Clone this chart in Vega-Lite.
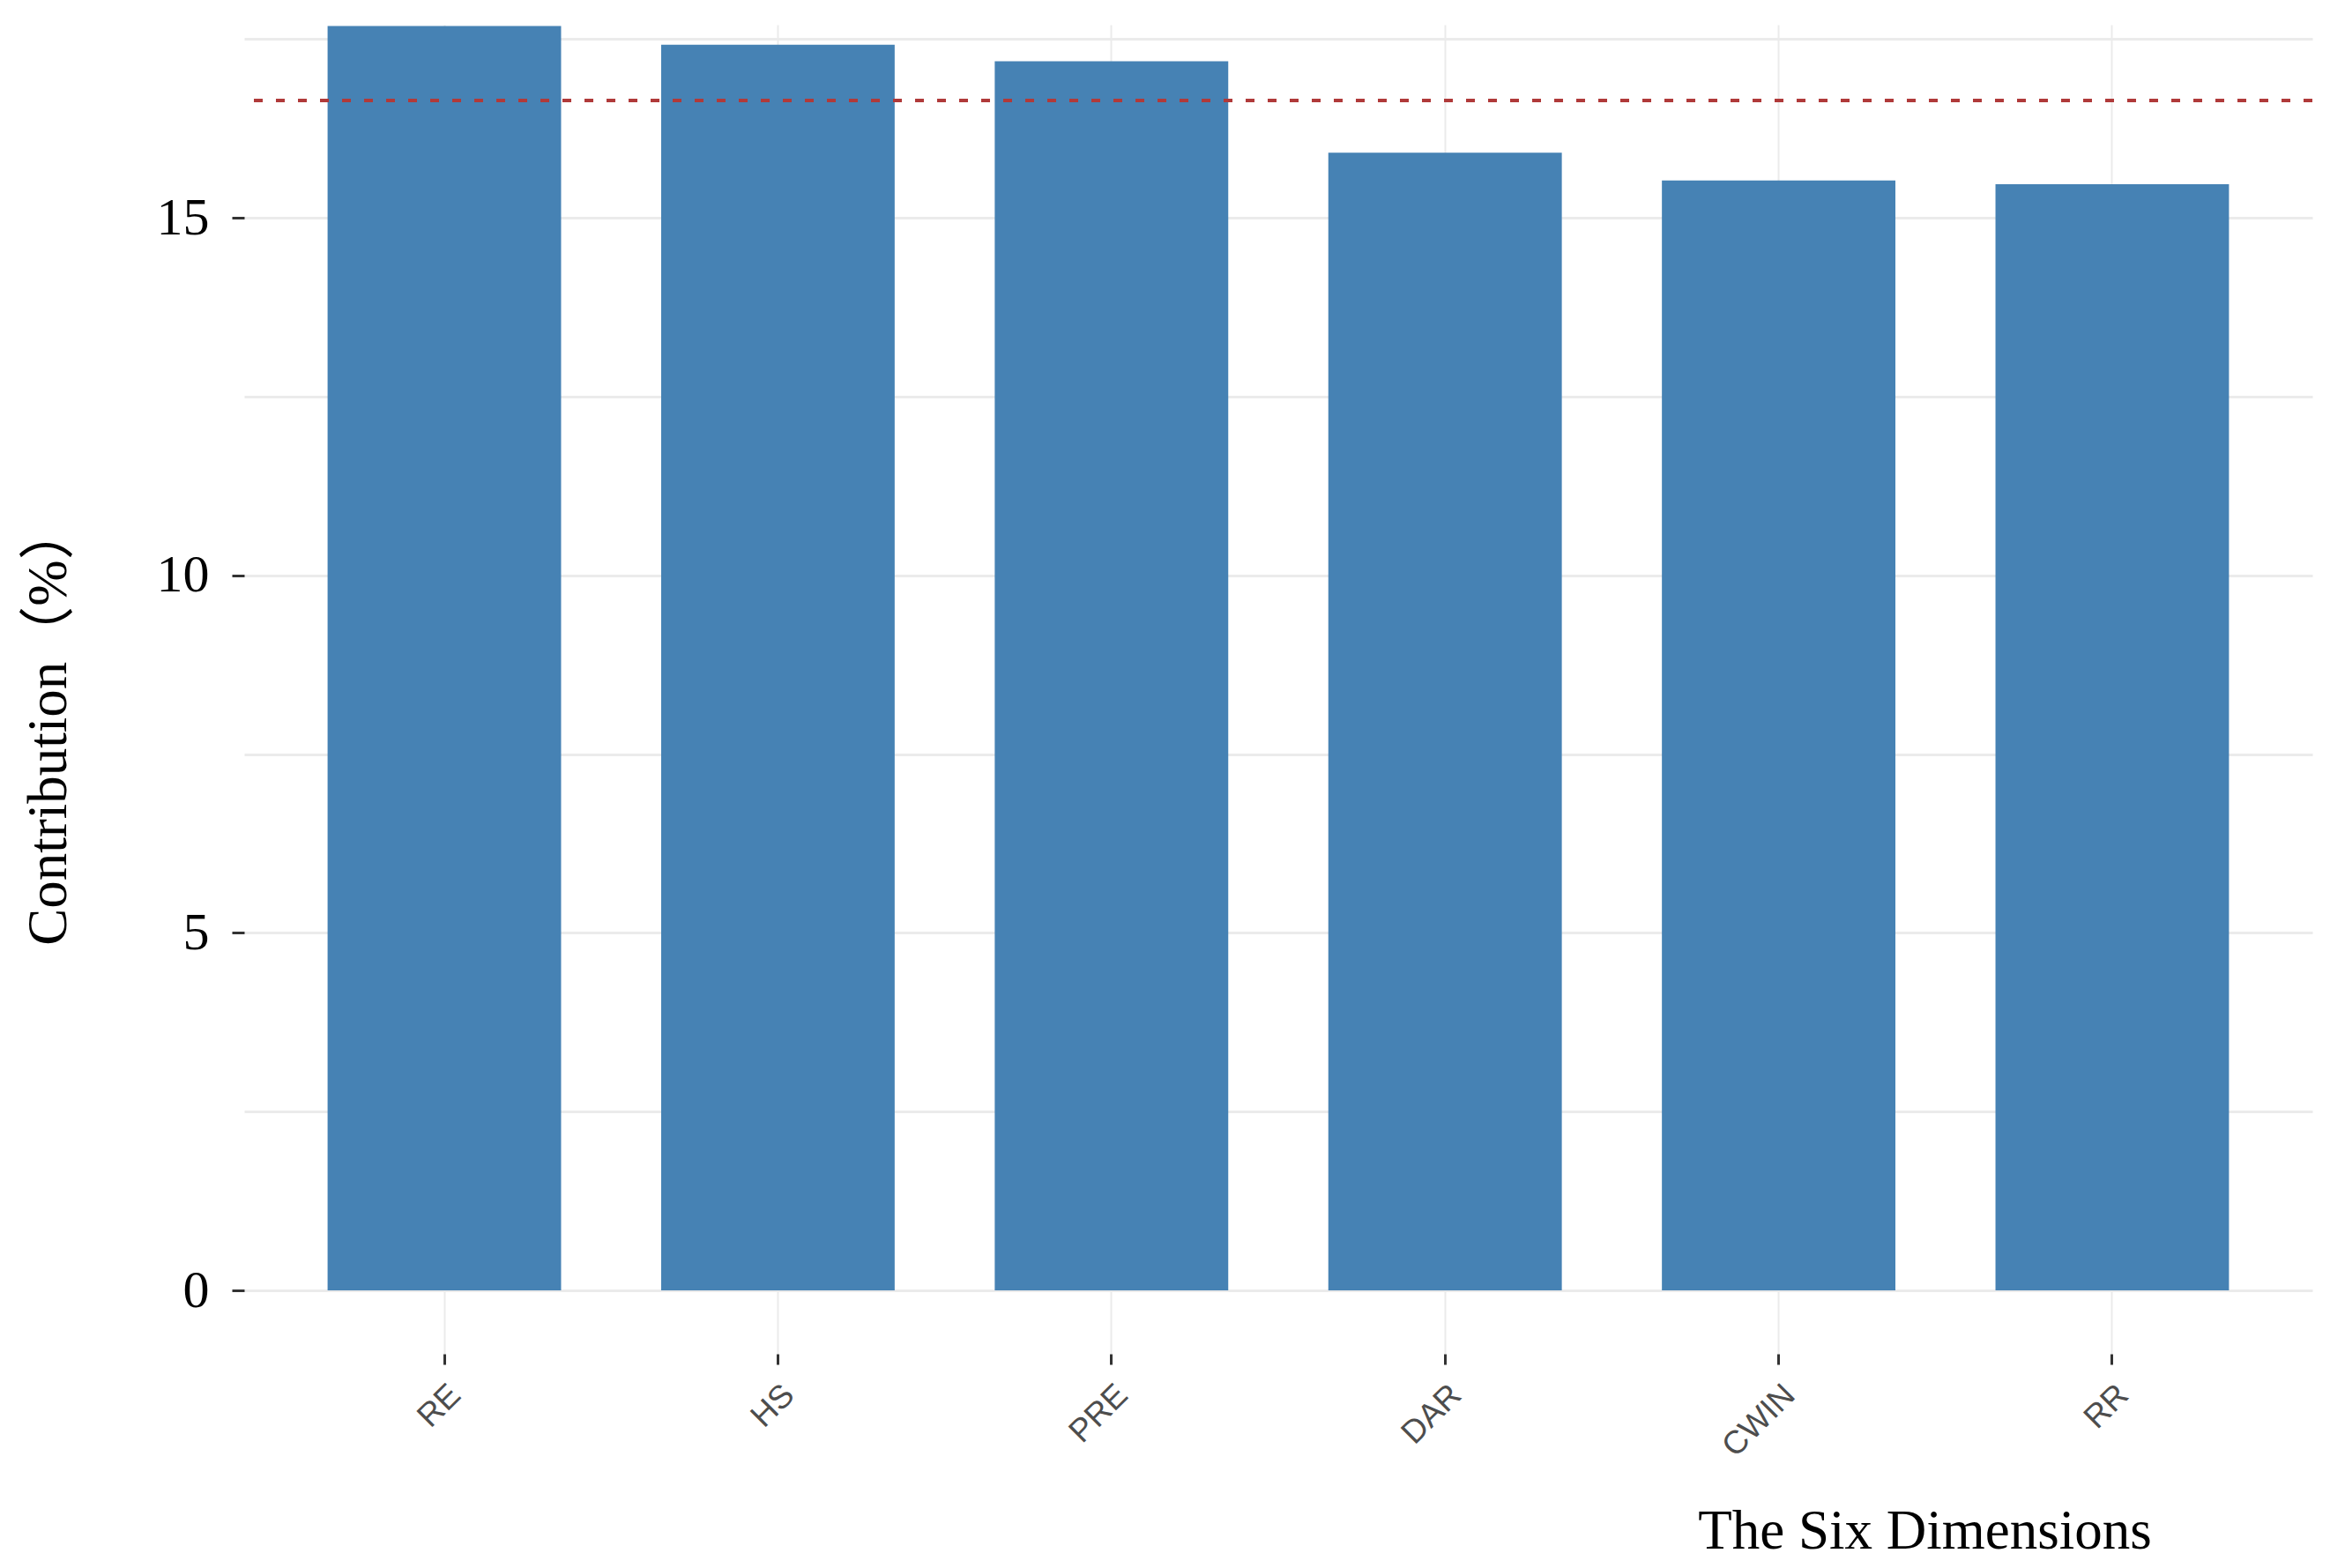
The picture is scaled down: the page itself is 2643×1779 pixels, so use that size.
{
  "$schema": "https://vega.github.io/schema/vega-lite/v6.json",
  "width": 2346,
  "height": 1508,
  "autosize": {"type": "none"},
  "padding": {"left": 277, "top": 28, "right": 20, "bottom": 243},
  "background": "white",
  "config": {"view": {"stroke": null}},
  "data": {
    "values": [
      {"dim": "RE", "value": 17.68},
      {"dim": "HS", "value": 17.42},
      {"dim": "PRE", "value": 17.19},
      {"dim": "DAR", "value": 15.91},
      {"dim": "CWIN", "value": 15.52},
      {"dim": "RR", "value": 15.47}
    ]
  },
  "layer": [
    {
      "mark": {"type": "bar", "color": "#4682B4"},
      "encoding": {
        "x": {
          "field": "dim",
          "type": "nominal",
          "sort": null,
          "scale": {"paddingInner": 0.3, "paddingOuter": 0.25},
          "axis": {
            "title": "The Six Dimensions",
            "labelAngle": -45,
            "labelAlign": "right",
            "labelBaseline": "top",
            "labelFont": "Liberation Sans",
            "labelFontSize": 37,
            "labelColor": "#4d4d4d",
            "labelPadding": 16,
            "tickSize": 12,
            "tickWidth": 3,
            "tickColor": "#333333",
            "domain": false,
            "grid": true,
            "gridColor": "#ebebeb",
            "gridWidth": 2,
            "titleFont": "Liberation Serif",
            "titleFontSize": 63,
            "titleFontWeight": "normal",
            "titleColor": "black",
            "titleX": 1906,
            "titleY": 220,
            "titleAlign": "center",
            "titleBaseline": "alphabetic"
          }
        },
        "y": {
          "field": "value",
          "type": "quantitative",
          "scale": {"domain": [-0.887, 17.70], "nice": false, "zero": false},
          "axis": {
            "title": "Contribution（%）",
            "values": [0, 2.5, 5, 7.5, 10, 12.5, 15, 17.5],
            "labelExpr": "datum.value % 5 === 0 ? format(datum.value, 'd') : ''",
            "tickOpacity": {"condition": {"test": "datum.value % 5 === 0", "value": 1}, "value": 0},
            "tickSize": 14,
            "tickWidth": 3,
            "tickColor": "#333333",
            "labelFont": "Liberation Serif",
            "labelFontSize": 60,
            "labelColor": "black",
            "labelPadding": 26,
            "domain": false,
            "grid": true,
            "gridColor": "#ebebeb",
            "gridWidth": 3,
            "titleFont": "Liberation Serif, Noto Sans CJK SC",
            "titleFontSize": 63,
            "titleFontWeight": "normal",
            "titleColor": "black",
            "titleAngle": -90,
            "titleX": -203,
            "titleY": 794,
            "titleAlign": "center",
            "titleBaseline": "alphabetic"
          }
        },
        "y2": {"datum": 0}
      }
    },
    {
      "data": {"values": [{"mean": 16.64}]},
      "mark": {"type": "rule", "color": "#b03a3a", "strokeDash": [10, 15], "strokeWidth": 4},
      "encoding": {
        "y": {"field": "mean", "type": "quantitative"}
      }
    }
  ]
}
